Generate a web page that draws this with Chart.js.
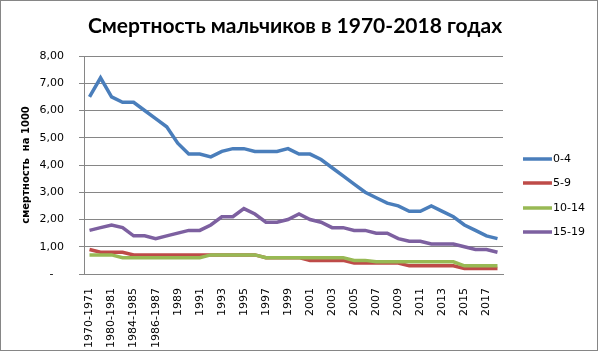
<!DOCTYPE html>
<html>
<head>
<meta charset="utf-8">
<script src="https://cdn.jsdelivr.net/npm/chart.js@4"></script>
<style>
  html, body { margin: 0; padding: 0; background: #fff; }
  #wrap { width: 598px; height: 351px; }
</style>
</head>
<body>
<div id="wrap"><canvas id="mortalityChart" width="598" height="351"></canvas></div>
<script>
const years = ['1970-1971', '1975-1976', '1980-1981', '1982-1983', '1984-1985', '1985-1986', '1986-1987',
    '1988', '1989', '1990', '1991', '1992', '1993', '1994', '1995', '1996', '1997', '1998', '1999', '2000',
    '2001', '2002', '2003', '2004', '2005', '2006', '2007', '2008', '2009', '2010', '2011', '2012', '2013',
    '2014', '2015', '2016', '2017', '2018'];

const age0to4 = [6.5, 7.2, 6.5, 6.3, 6.3, 6.0, 5.7, 5.4, 4.8, 4.4, 4.4, 4.3, 4.5, 4.6, 4.6, 4.5, 4.5, 4.5, 4.6,
    4.4, 4.4, 4.2, 3.9, 3.6, 3.3, 3.0, 2.8, 2.6, 2.5, 2.3, 2.3, 2.5, 2.3, 2.1, 1.8, 1.6, 1.4, 1.3];
const age5to9 = [0.9, 0.8, 0.8, 0.8, 0.7, 0.7, 0.7, 0.7, 0.7, 0.7, 0.7, 0.7, 0.7, 0.7, 0.7, 0.7, 0.6, 0.6, 0.6,
    0.6, 0.5, 0.5, 0.5, 0.5, 0.4, 0.4, 0.4, 0.4, 0.4, 0.3, 0.3, 0.3, 0.3, 0.3, 0.2, 0.2, 0.2, 0.2];
const age10to14 = [0.7, 0.7, 0.7, 0.6, 0.6, 0.6, 0.6, 0.6, 0.6, 0.6, 0.6, 0.7, 0.7, 0.7, 0.7, 0.7, 0.6, 0.6, 0.6,
    0.6, 0.6, 0.6, 0.6, 0.6, 0.5, 0.5, 0.45, 0.45, 0.45, 0.45, 0.45, 0.45, 0.45, 0.45, 0.3, 0.3, 0.3, 0.3];
const age15to19 = [1.6, 1.7, 1.8, 1.7, 1.4, 1.4, 1.3, 1.4, 1.5, 1.6, 1.6, 1.8, 2.1, 2.1, 2.4, 2.2, 1.9, 1.9, 2.0,
    2.2, 2.0, 1.9, 1.7, 1.7, 1.6, 1.6, 1.5, 1.5, 1.3, 1.2, 1.2, 1.1, 1.1, 1.1, 1.0, 0.9, 0.9, 0.8];

const seriesNames = ['0-4', '5-9', '10-14', '15-19'];
const seriesColors = ['#4a7ebb', '#be4b48', '#98b954', '#7d60a0'];
const yTicks = [0, 1, 2, 3, 4, 5, 6, 7, 8];
const chartTitle = 'Смертность мальчиков в 1970-2018 годах';

const gridGray = '#868686';

// title, legend and outer frame, drawn by hand to match the spreadsheet look
const decorPlugin = {
    id: 'decor',
    afterDraw(chart) {
        const c = chart.ctx;
        c.save();
        c.strokeStyle = gridGray;
        c.lineWidth = 1;
        c.strokeRect(0.5, 0.5, chart.width - 1, chart.height - 1);

        c.fillStyle = '#000';
        c.font = 'bold 21px Lato';
        c.textAlign = 'center';
        c.textBaseline = 'middle';
        c.fillText(chartTitle, 295, 26);

        const rows = [159, 183, 208, 232];
        c.font = '11px "DejaVu Sans"';
        c.textAlign = 'left';
        seriesNames.forEach((name, i) => {
            c.strokeStyle = seriesColors[i];
            c.lineWidth = 3.5;
            c.beginPath();
            c.moveTo(523, rows[i]);
            c.lineTo(552, rows[i]);
            c.stroke();
            c.fillText(name, 553, rows[i]);
        });
        c.restore();
    }
};

const datasets = [age0to4, age5to9, age10to14, age15to19].map((data, i) => ({
    label: seriesNames[i],
    data: data,
    borderColor: seriesColors[i],
    backgroundColor: seriesColors[i],
    borderWidth: 3.5,
    pointRadius: 0,
    tension: 0,
    order: 4 - i
}));

new Chart(document.getElementById('mortalityChart'), {
    type: 'line',
    data: { labels: years, datasets: datasets },
    options: {
        responsive: false,
        animation: false,
        layout: { padding: { left: 20, right: 95, top: 56, bottom: 4 } },
        plugins: {
            legend: { display: false },
            tooltip: { enabled: false },
            title: { display: false }
        },
        scales: {
            x: {
                offset: true,
                grid: { display: false },
                border: { display: true, color: gridGray },
                ticks: {
                    autoSkip: false,
                    minRotation: 90,
                    maxRotation: 90,
                    padding: 6,
                    color: '#000',
                    font: { family: 'DejaVu Sans', size: 11 },
                    callback: (v, i) => (i % 2 === 0 ? years[i] : '')
                },
                afterFit: scale => { scale.height = 73; }
            },
            y: {
                min: 0,
                max: 8,
                afterBuildTicks: scale => { scale.ticks = yTicks.map(v => ({ value: v })); },
                grid: { color: gridGray, tickLength: 5, tickColor: gridGray },
                border: { display: true, color: gridGray },
                ticks: {
                    padding: 15,
                    color: '#000',
                    font: { family: 'DejaVu Sans', size: 11 },
                    callback: v => (v === 0 ? '-   ' : v.toFixed(2).replace('.', ','))
                },
                title: {
                    display: true,
                    text: 'смертность  на 1000',
                    color: '#000',
                    font: { family: 'DejaVu Sans', size: 10, weight: 'bold' },
                    padding: 0
                },
                afterFit: scale => { scale.width = 64; }
            }
        }
    },
    plugins: [decorPlugin]
});
</script>
</body>
</html>
